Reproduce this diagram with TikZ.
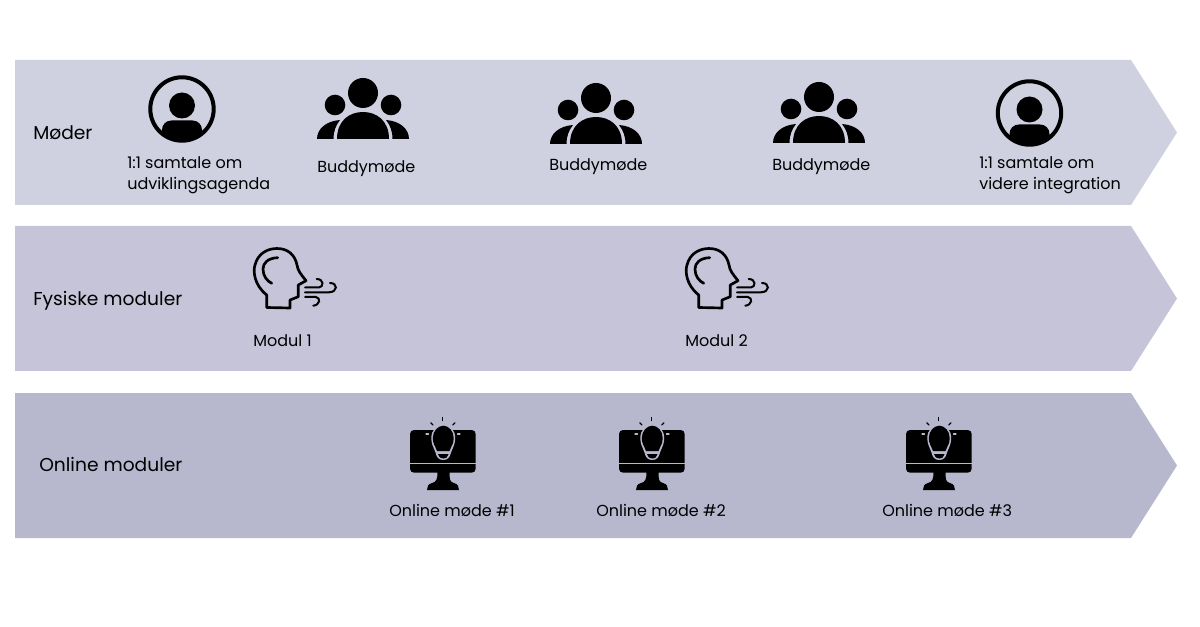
\documentclass[tikz,border=0pt]{standalone}
\usepackage{fontspec}
\setmainfont{Poppins}
\usepackage{tikz}
\definecolor{bandOne}{RGB}{207,209,224}
\definecolor{bandTwo}{RGB}{197,196,216}
\definecolor{bandThree}{RGB}{183,184,206}
\tikzset{
  rowlabel/.style={anchor=base west, inner sep=0pt, font=\fontsize{14}{16}\selectfont},
  itemlabel/.style={anchor=base west, inner sep=0pt, font=\fontsize{12}{15.8}\selectfont},
  twolabel/.style={itemlabel, anchor=west, align=left},
  pics/oneperson/.style={code={
    \draw[line width=3pt] (0,0) circle (31.7);
    \fill (0,-3.5) circle (13);
    \begin{scope}
      \clip (0,0) circle (31);
      \fill[rounded corners=7pt] (-20,40) -- (-20,11.5) -- (20,11.5) -- (20,40) -- cycle;
    \end{scope}
  }},
  pics/buddies/.style={code={
    \fill (0,0) circle (15);
    \fill (-28,12) circle (10.3);
    \fill (28,12) circle (10.3);
    \fill (-26,46) .. controls (-26,28) and (-14,19) .. (0,19) .. controls (14,19) and (26,28) .. (26,46) -- cycle;
    \fill (-46,46) .. controls (-46,36) and (-37,28) .. (-23,27) .. controls (-27,32) and (-29.5,38) .. (-29.5,46) -- cycle;
    \fill (46,46) .. controls (46,36) and (37,28) .. (23,27) .. controls (27,32) and (29.5,38) .. (29.5,46) -- cycle;
  }},
  pics/breath/.style={code={
    \draw[line width=2pt, line cap=round, line join=round]
      (26.7,72.5) -- (26.7,60) .. controls (14,50) and (13,36) .. (15,30)
      .. controls (18,18) and (28,13.5) .. (37,13.5)
      .. controls (48,13.5) and (55,20) .. (57,30)
      .. controls (58,36) and (60,38) .. (66,45.7)
      -- (58.3,50) -- (58.3,61.7) -- (50,65) -- (50,73) -- cycle;
    \draw[line width=2pt, line cap=round]
      (37.7,22.7) .. controls (28,23) and (23,28) .. (23,34) .. controls (23,41) and (27,46) .. (31.7,48.3);
    \draw[line width=1.5pt, line cap=round]
      (65,52.5) -- (79,52.5) .. controls (84,52) and (84,44) .. (76.7,44);
    \draw[line width=1.5pt, line cap=round]
      (65,57.3) -- (89,57.3) .. controls (98,57) and (98,48) .. (90,48);
    \draw[line width=1.5pt, line cap=round]
      (65,62) -- (76,62) .. controls (81,63) and (80,70) .. (73.3,70.7);
  }},
  pics/monitor/.style={code={
    \fill[rounded corners=3pt] (10,20) rectangle (75.7,62.7);
    \fill[bandThree] (10,53) rectangle (75.7,54.2);
    \fill (37.5,62) -- (49.5,62) .. controls (49.5,70) and (50,72) .. (54,73)
      .. controls (58,74) and (59,77) .. (59,80) -- (27,80)
      .. controls (27,77) and (28,74) .. (32,73) .. controls (36,72) and (37.5,70) .. (37.5,62) -- cycle;
    \fill[bandThree]
      (35.5,42.5) .. controls (33,36) and (31.3,34) .. (31.3,28)
      .. controls (31.3,20) and (37,14.5) .. (43.3,14.5)
      .. controls (49.6,14.5) and (55.2,20) .. (55.2,28)
      .. controls (55.2,34) and (53.5,36) .. (51,42.5)
      .. controls (50,47) and (48,50) .. (43.3,50)
      .. controls (38.5,50) and (36.5,47) .. (35.5,42.5) -- cycle;
    \fill
      (37,41) .. controls (35,35.5) and (32.8,34) .. (32.8,28)
      .. controls (32.8,21) and (38,15.7) .. (43.3,15.7)
      .. controls (48.6,15.7) and (53.7,21) .. (53.7,28)
      .. controls (53.7,34) and (51.5,35.5) .. (49.5,41) -- cycle;
    \fill (38,44.2) -- (48.5,44.2) .. controls (47.8,47) and (46,48.6) .. (43.3,48.6)
      .. controls (40.5,48.6) and (38.7,47) .. (38,44.2) -- cycle;
    \draw[line width=0.9pt, line cap=round] (42.7,7.5) -- (42.7,10.5);
    \draw[line width=0.9pt, line cap=round] (30.7,12.7) -- (33,15);
    \draw[line width=0.9pt, line cap=round] (55,12.7) -- (52.7,15);
    \draw[bandThree, line width=0.9pt, line cap=round] (26,24) -- (28.5,24);
    \draw[bandThree, line width=0.9pt, line cap=round] (57.5,24) -- (60,24);
  }}
}
\begin{document}
\begin{tikzpicture}[x=0.75pt, y=-0.75pt]
  \useasboundingbox (0,0) rectangle (1200,627);

  % Bands
  \foreach \y/\col in {60/bandOne, 226/bandTwo, 393/bandThree} {
    \fill[\col] (15,\y) -- (1131,\y) -- (1177,\y+72.5) -- (1131,\y+145) -- (15,\y+145) -- cycle;
  }

  % Row titles
  \node[rowlabel] (rowMeet) at (33,139.5) {Møder};
  \node[rowlabel] (rowPhys) at (33,305.5) {Fysiske moduler};
  \node[rowlabel] (rowWeb) at (39,471.5) {Online moduler};

  % Meetings
  \pic at (182,109) {oneperson};
  \pic at (1029.5,113) {oneperson};
  \foreach \x/\y in {363/93, 596/98, 819/97} {
    \pic at (\x,\y) {buddies};
  }
  \node[twolabel] (talkA) at (127,175.5) {1:1 samtale om\\udviklingsagenda};
  \node[twolabel] (talkB) at (979,175.5) {1:1 samtale om\\videre integration};
  \node[itemlabel] (buddyA) at (317,173) {Buddymøde};
  \node[itemlabel] (buddyB) at (549,171) {Buddymøde};
  \node[itemlabel] (buddyC) at (772,171) {Buddymøde};

  % Physical modules
  \foreach \x in {240, 672} {
    \pic at (\x,235) {breath};
  }
  \node[itemlabel] (modA) at (253,347) {Modul 1};
  \node[itemlabel] (modB) at (685,347) {Modul 2};

  % Online modules
  \foreach \x in {400, 609, 896} {
    \pic at (\x,410) {monitor};
  }
  \node[itemlabel] (webA) at (389,516) {Online møde \#1};
  \node[itemlabel] (webB) at (596,516) {Online møde \#2};
  \node[itemlabel] (webC) at (882,516) {Online møde \#3};
\end{tikzpicture}
\end{document}
